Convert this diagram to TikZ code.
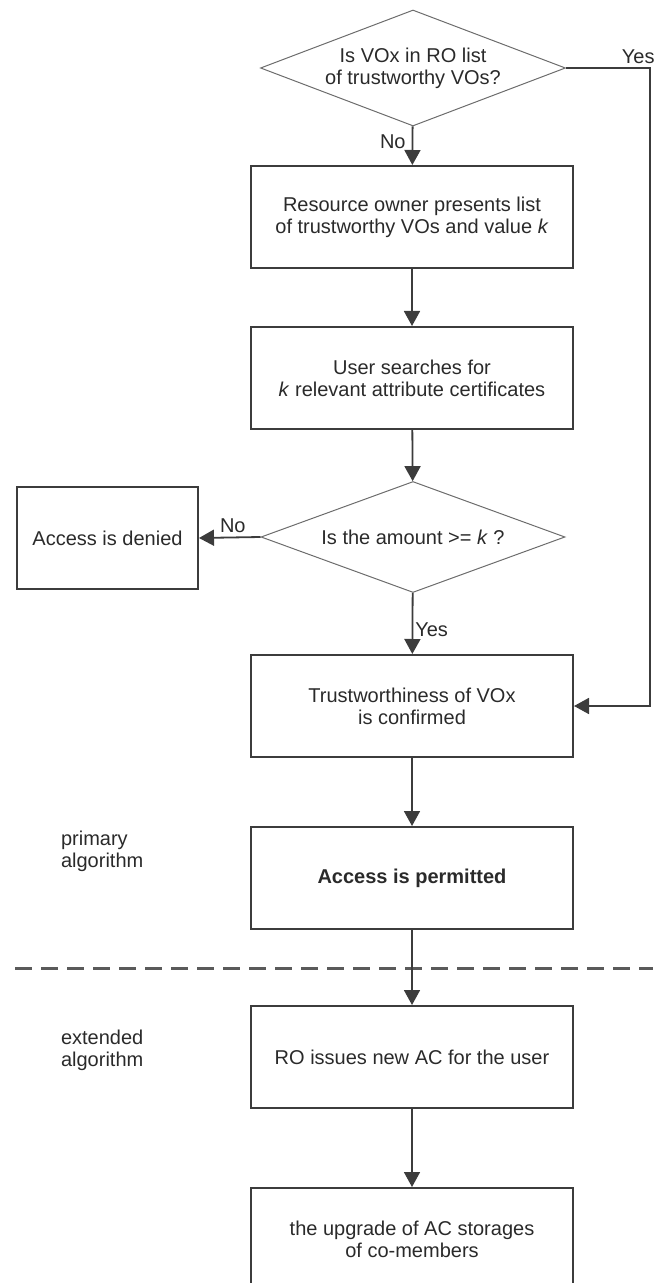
\documentclass[tikz,border=0pt]{standalone}
\usepackage{fontspec}
\setmainfont{Liberation Sans}
\usetikzlibrary{shapes.geometric,arrows.meta}
\definecolor{linegray}{HTML}{3C3C3C}
\definecolor{txtgray}{HTML}{2A2A2A}
\definecolor{dashgray}{HTML}{5A5A5A}

\begin{document}
\begin{tikzpicture}[x=0.5pt, y=-0.5pt, font=\fontsize{10}{11}\selectfont,
  box/.style = {draw=linegray, line width=1pt, minimum width=161pt, minimum height=51pt, align=center, text=txtgray},
  decision/.style = {draw=gray!85!black, line width=0.5pt, diamond, inner sep=0pt, align=center, text=txtgray},
  arr/.style = {draw=linegray, line width=0.9pt, -{Triangle[length=7.5pt, width=8pt]}},
  lbl/.style = {text=txtgray}]
\useasboundingbox (0,0) rectangle (653,1283);
\node[decision, minimum width=152.5pt, minimum height=58pt, aspect=2.6] (vo) at (413,68) {Is VOx in RO list\\of trustworthy VOs?};
\node[box] (list) at (412,217) {Resource owner presents list\\of trustworthy VOs and value \textit{k}};
\node[box] (search) at (412,378) {User searches for\\\textit{k} relevant attribute certificates};
\node[decision, minimum width=152pt, minimum height=55.5pt, aspect=2.74] (amount) at (413,537) {Is the amount >= \textit{k} ?};
\node[box, minimum width=90.5pt] (denied) at (107.5,538) {Access is denied};
\node[box] (trust) at (412,706) {Trustworthiness of VOx\\is confirmed};
\node[box] (permit) at (412,878) {\bfseries Access is permitted};
\node[box] (issue) at (412,1057) {RO issues new AC for the user};
\node[box] (upgrade) at (412,1239) {the upgrade of AC storages\\of co-members};
\node[lbl, anchor=west, align=left] (prim) at (54,851) {primary\\algorithm};
\node[lbl, anchor=west, align=left] (ext) at (54,1050) {extended\\algorithm};
\coordinate (yescorner) at (650,68);
\coordinate (sepleft) at (15,968);
\coordinate (sepright) at (653,968);
% separator between the two parts
\draw[dashgray, line width=1.5pt, dash pattern=on 8.5pt off 4.5pt] (sepleft) -- (sepright);
\draw[arr] (vo) -- node[lbl, left, pos=0.4, inner sep=3pt] {No} (list);
\draw[arr] (vo.east) -- node[lbl, above, pos=0.86, inner sep=1.5pt] {Yes} (yescorner) |- (trust.east);
\draw[arr] (list) -- (search);
\draw[arr] (search) -- (amount);
\draw[arr] (amount.west) -- node[lbl, above, pos=0.45, inner sep=2pt] {No} (denied.east);
\draw[arr] (amount) -- node[lbl, right, pos=0.6, inner sep=1pt] {Yes} (trust);
\draw[arr] (trust) -- (permit);
\draw[arr] (permit) -- (issue);
\draw[arr] (issue) -- (upgrade);
\end{tikzpicture}
\end{document}
